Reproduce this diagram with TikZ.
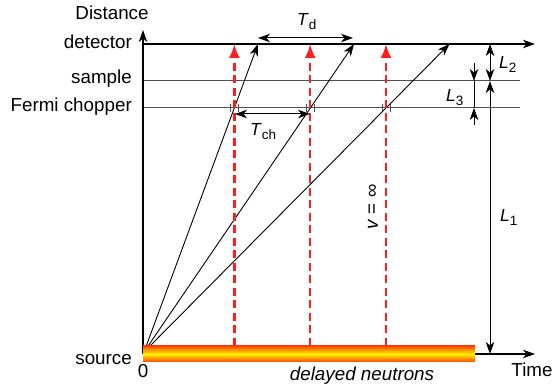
\documentclass[tikz,border=0pt]{standalone}
\usepackage{fontspec}
\setmainfont{Liberation Sans}
\usetikzlibrary{arrows.meta}
\definecolor{nred}{RGB}{255,30,30}
\definecolor{barout}{RGB}{255,70,0}
\definecolor{barmid}{RGB}{255,240,0}
\definecolor{gline}{RGB}{80,80,80}
\newcommand{\symsub}[2]{\textit{#1}\raisebox{-0.4ex}{\fontsize{13.5}{14}\selectfont #2}}
\begin{document}
\begin{tikzpicture}[x=1pt,y=-1pt,
  lab/.style={font=\fontsize{18.8}{21}\selectfont, inner sep=0pt},
  dimlab/.style={font=\fontsize{17.5}{19}\selectfont, inner sep=0pt, anchor=base west},
  tipk/.style={-{Stealth[length=12pt,width=8.5pt,inset=3.5pt]}},
  tipkk/.style={{Stealth[length=12pt,width=8.5pt,inset=3.5pt]}-{Stealth[length=12pt,width=8.5pt,inset=3.5pt]}},
  ray/.style={line width=0.9pt, -{Stealth[length=12pt,width=8.5pt,inset=3.5pt]}},
  redray/.style={nred, line width=2.4pt, dash pattern=on 8pt off 4.5pt, -{Latex[length=14pt,width=11pt]}},
  thin/.style={gline, line width=1pt},
  tick/.style={gline, line width=0.8pt}]
\useasboundingbox (0,0) rectangle (555,387);

% coordinates
\coordinate (O) at (143,354);
\coordinate (Ytop) at (143,30);
\coordinate (Xend) at (535,354);
\coordinate (D0) at (143,44);
\coordinate (D1) at (535,44);
\coordinate (S0) at (143,81);
\coordinate (S1) at (520,81);
\coordinate (C0) at (143,108);
\coordinate (C1) at (520,108);
\coordinate (Src) at (144,352);
\coordinate (A1) at (258,44);
\coordinate (A2) at (354,44);
\coordinate (A3) at (449.5,44);

% guide lines
\draw[thin] (S0) -- (S1);
\draw[thin] (C0) -- (C1);

% chopper ticks
\foreach \cx [count=\i] in {234.6,310.4,386.2}{
  \coordinate (tl\i a) at (\cx-4,104); \coordinate (tl\i b) at (\cx-4,112);
  \coordinate (tr\i a) at (\cx+4,104); \coordinate (tr\i b) at (\cx+4,112);
  \draw[tick] (tl\i a) -- (tl\i b);
  \draw[tick] (tr\i a) -- (tr\i b);
}

% axes
\draw[line width=1.2pt, tipk] (O) -- (Ytop);
\draw[line width=1.2pt, tipk] (O) -- (Xend);
\draw[line width=1.2pt, tipk] (D0) -- (D1);

% rays
\draw[ray] (Src) -- (A1);
\draw[ray] (Src) -- (A2);
\draw[ray] (Src) -- (A3);

% red dashed arrows
\coordinate (R1b) at (234.4,346); \coordinate (R1t) at (234.4,44);
\coordinate (R2b) at (310.2,346); \coordinate (R2t) at (310.2,44);
\coordinate (R3b) at (386,346);   \coordinate (R3t) at (386,44);
\draw[redray] (R1b) -- (R1t);
\draw[redray] (R2b) -- (R2t);
\draw[redray] (R3b) -- (R3t);

% source bar
\shade[top color=barout, bottom color=barout, middle color=barmid] (143,346) rectangle (475,362);

% T_d and T_ch
\coordinate (Td0) at (258,38); \coordinate (Td1) at (353,38);
\draw[line width=1pt, tipkk] (Td0) -- (Td1);
\node[dimlab] (Td) at (297,26) {\symsub{T}{d}};
\coordinate (Tc0) at (235,114); \coordinate (Tc1) at (310,114);
\draw[line width=1pt, tipkk] (Tc0) -- (Tc1);
\node[dimlab] (Tch) at (250,136) {\symsub{T}{ch}};

% L dimensions
\coordinate (L2a) at (490,44); \coordinate (L2b) at (490,81);
\coordinate (L1a) at (490,81); \coordinate (L1b) at (490,354);
\draw[line width=0.9pt, tipkk] (L2a) -- (L2b);
\draw[line width=0.9pt, tipkk] (L1a) -- (L1b);
\coordinate (L3t) at (474,63); \coordinate (L3a) at (474,81);
\coordinate (L3b) at (474,108); \coordinate (L3u) at (474,125);
\draw[line width=0.9pt, tipk] (L3t) -- (L3a);
\draw[line width=0.9pt] (L3a) -- (L3b);
\draw[line width=0.9pt, tipk] (L3u) -- (L3b);
\node[dimlab] (L3) at (446,102) {\symsub{L}{3}};
\node[dimlab] (L2) at (499,69) {\symsub{L}{2}};
\node[dimlab] (L1) at (500,222) {\symsub{L}{1}};

% labels
\node[lab, anchor=base] (dist) at (112,20) {Distance};
\node[lab, anchor=base east] (det) at (132,49) {detector};
\node[lab, anchor=base east] (samp) at (132,84) {sample};
\node[lab, anchor=base east] (chop) at (132,112) {Fermi chopper};
\node[lab, anchor=base east] (src) at (132,365) {source};
\node[lab, anchor=base] (zero) at (143,378) {0};
\node[lab, anchor=base] (delay) at (362,381) {\textit{delayed neutrons}};
\node[lab, anchor=base] (time) at (532,377) {Time};
\node[lab, rotate=90] (vinf) at (373,207) {\textit{v} = ∞};
\end{tikzpicture}
\end{document}
